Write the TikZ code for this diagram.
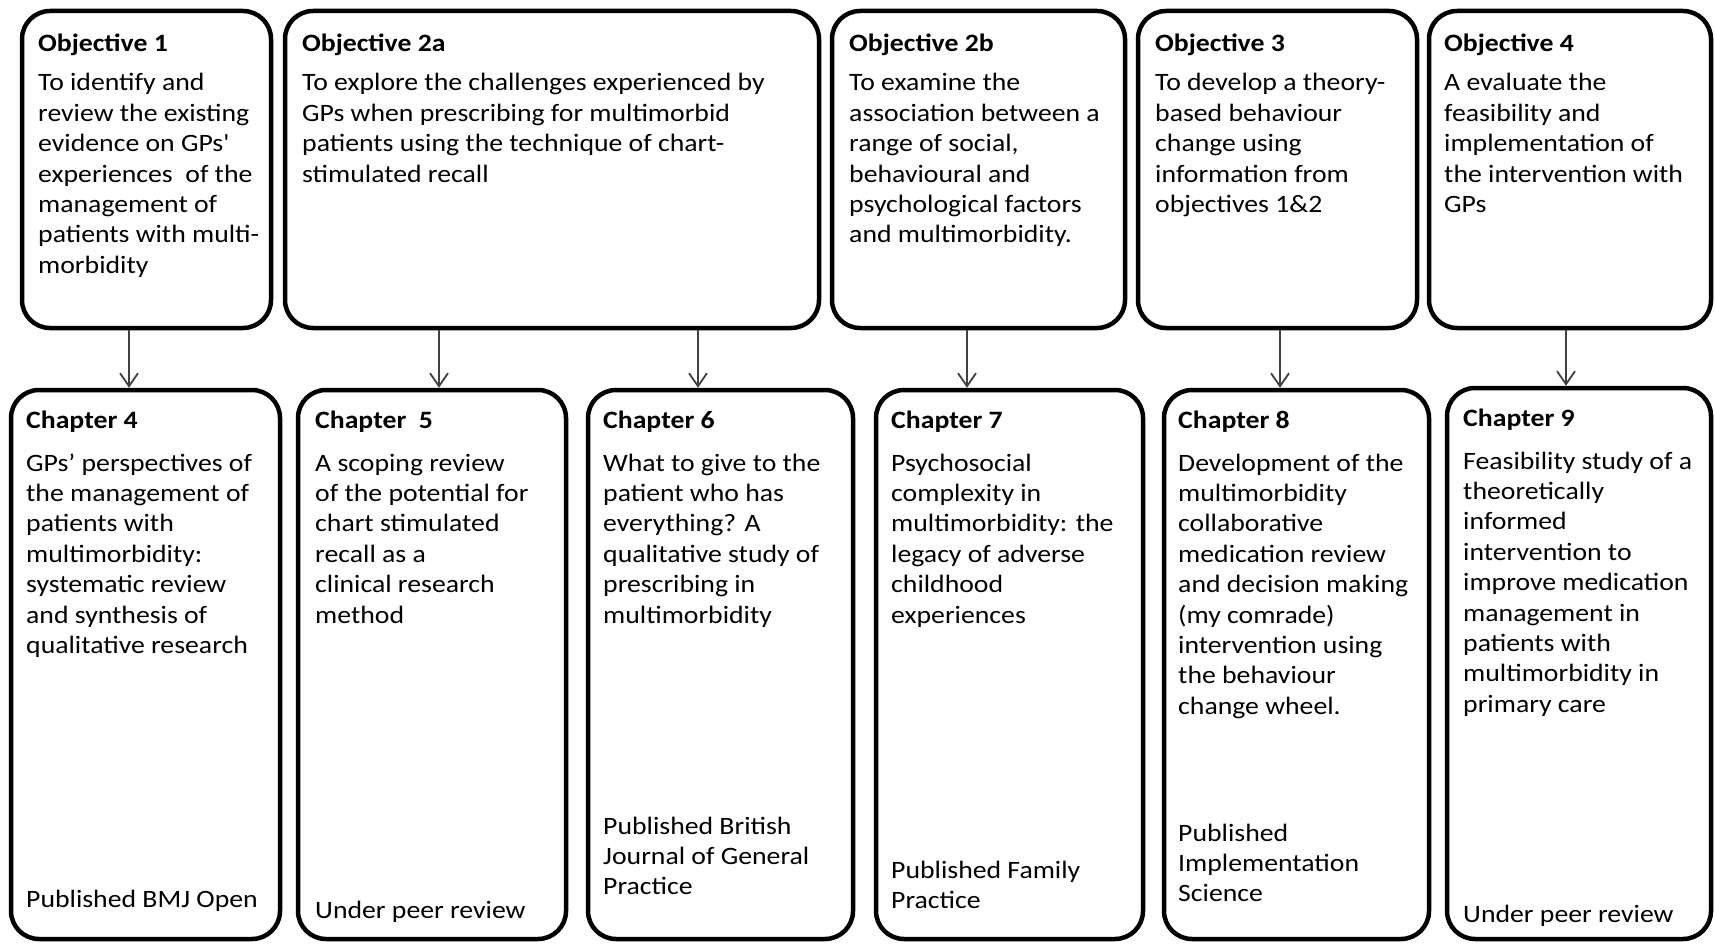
\documentclass[tikz,border=0pt]{standalone}
\usepackage{fontspec}
\setmainfont{Carlito}[FakeStretch=1.11]
\usetikzlibrary{arrows.meta}

% text block whose reference point is the baseline of its first line
\newcommand\txtsize{\fontsize{25}{30.4}\selectfont}
\newcommand\lines[1]{\parbox[t]{700pt}{\raggedright #1}}

\begin{document}
\begin{tikzpicture}[x=1pt,y=-1pt,
  box/.style={draw=black, line width=4.5pt, rounded corners=28pt, inner sep=0pt, fill=white},
  head/.style={anchor=base west, inner sep=0pt, font=\txtsize\bfseries},
  body/.style={anchor=base west, inner sep=0pt, font=\txtsize},
  link/.style={draw=black!75, line width=1.8pt,
    -{Straight Barb[length=13pt,width=18pt,line width=1.8pt]}}
]
\useasboundingbox[fill=white] (0,0) rectangle (1715,944);

% objective boxes
\node[box, minimum width=249pt, minimum height=317pt] (o1)  at (146.5,169.5) {};
\node[box, minimum width=534pt, minimum height=317pt] (o2a) at (552,169.5) {};
\node[box, minimum width=293pt, minimum height=317pt] (o2b) at (978.5,169.5) {};
\node[box, minimum width=279pt, minimum height=317pt] (o3)  at (1277.5,169.5) {};
\node[box, minimum width=282pt, minimum height=317pt] (o4)  at (1570,169.5) {};

% chapter boxes
\node[box, minimum width=269pt, minimum height=549pt] (c4) at (145.5,664.5) {};
\node[box, minimum width=268pt, minimum height=549pt] (c5) at (432,664.5) {};
\node[box, minimum width=265pt, minimum height=549pt] (c6) at (720.5,664.5) {};
\node[box, minimum width=267pt, minimum height=549pt] (c7) at (1009.5,664.5) {};
\node[box, minimum width=265pt, minimum height=549pt] (c8) at (1296.5,664.5) {};
\node[box, minimum width=264pt, minimum height=551pt] (c9) at (1579,663.5) {};

% objective texts
\node[head] (o1h)  at (38,52)   {Objective 1};
\node[body] (o1b)  at (38,91)   {\lines{To identify and\\review the existing\\evidence on GPs\textquotesingle\\experiences\ \ of the\\management of\\patients with multi-\\morbidity}};
\node[head] (o2ah) at (302,52)  {Objective 2a};
\node[body] (o2ab) at (302,91)  {\lines{To explore the challenges experienced by\\GPs when prescribing for multimorbid\\patients using the technique of chart-\\stimulated recall}};
\node[head] (o2bh) at (849,52)  {Objective 2b};
\node[body] (o2bb) at (849,91)  {\lines{To examine the\\association between a\\range of social,\\behavioural and\\psychological factors\\and multimorbidity.}};
\node[head] (o3h)  at (1155,52) {Objective 3};
\node[body] (o3b)  at (1155,91) {\lines{To develop a theory-\\based behaviour\\change using\\information from\\objectives 1\&2}};
\node[head] (o4h)  at (1444,52) {Objective 4};
\node[body] (o4b)  at (1444,91) {\lines{A evaluate the\\feasibility and\\implementation of\\the intervention with\\GPs}};

% chapter texts
\node[head] (c4h) at (26,428)  {Chapter 4};
\node[body] (c4b) at (26,471)  {\lines{GPs’ perspectives of\\the management of\\patients with\\multimorbidity:\\systematic review\\and synthesis of\\qualitative research}};
\node[body] (c4p) at (26,907)  {Published BMJ Open};

\node[head] (c5h) at (315,428) {Chapter\ \ 5};
\node[body] (c5b) at (315,471) {\lines{A scoping review\\of the potential for\\chart stimulated\\recall as a\\clinical research\\method}};
\node[body] (c5p) at (315,918) {Under peer review};

\node[head] (c6h) at (603,428) {Chapter 6};
\node[body] (c6b) at (603,471) {\lines{What to give to the\\patient who has\\everything? A\\qualitative study of\\prescribing in\\multimorbidity}};
\node[body] (c6p) at (603,834) {\lines{Published British\\Journal of General\\Practice}};

\node[head] (c7h) at (891,428) {Chapter 7};
\node[body] (c7b) at (891,471) {\lines{Psychosocial\\complexity in\\multimorbidity: the\\legacy of adverse\\childhood\\experiences}};
\node[body] (c7p) at (891,878) {\lines{Published Family\\Practice}};

\node[head] (c8h) at (1178,428) {Chapter 8};
\node[body] (c8b) at (1178,471) {\lines{Development of the\\multimorbidity\\collaborative\\medication review\\and decision making\\(my comrade)\\intervention using\\the behaviour\\change wheel.}};
\node[body] (c8p) at (1178,841) {\lines{Published\\Implementation\\Science}};

\node[head] (c9h) at (1463,426) {Chapter 9};
\node[body] (c9b) at (1463,469) {\lines{Feasibility study of a\\theoretically\\informed\\intervention to\\improve medication\\management in\\patients with\\multimorbidity in\\primary care}};
\node[body] (c9p) at (1463,922) {Under peer review};

% links from objectives to chapters
\draw[link] (o1.south  -| 129,0)  -- (c4.north -| 129,0);
\draw[link] (o2a.south -| 439,0)  -- (c5.north -| 439,0);
\draw[link] (o2a.south -| 698,0)  -- (c6.north -| 698,0);
\draw[link] (o2b.south -| 967,0)  -- (c7.north -| 967,0);
\draw[link] (o3.south  -| 1280,0) -- (c8.north -| 1280,0);
\draw[link] (o4.south  -| 1566,0) -- (c9.north -| 1566,0);
\end{tikzpicture}
\end{document}
